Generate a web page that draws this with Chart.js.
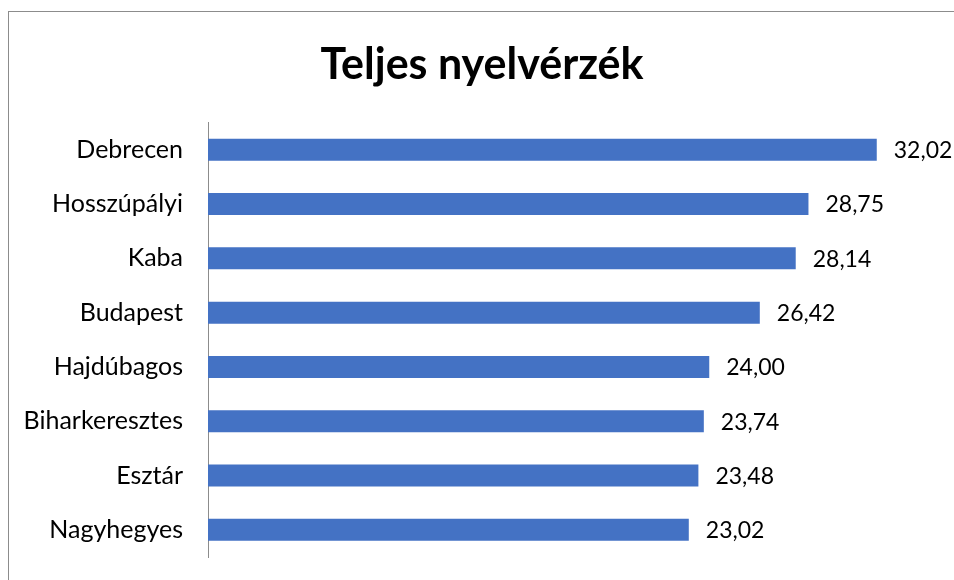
<!DOCTYPE html>
<html>
<head>
<meta charset="utf-8">
<script src="https://cdn.jsdelivr.net/npm/chart.js@4/dist/chart.umd.min.js"></script>
<style>
  html, body { margin: 0; padding: 0; background: #fff; overflow: hidden; }
  #frame {
    position: absolute; left: 8px; top: 11px;
    width: 980px; height: 620px;
    border: 1px solid #8c8c8c;
  }
  #chart { position: absolute; left: 0; top: 0; }
</style>
</head>
<body>
<div id="frame"></div>
<canvas id="chart" width="954" height="580"></canvas>
<script>
// data
const cities = ['Debrecen', 'Hosszúpályi', 'Kaba', 'Budapest', 'Hajdúbagos', 'Biharkeresztes', 'Esztár', 'Nagyhegyes'];
const scores = [32.02, 28.75, 28.14, 26.42, 24.00, 23.74, 23.48, 23.02];
const axisMax = 35;

const FONT = 'Lato, "Open Sans", sans-serif';

// value labels at the end of each bar, Hungarian decimal comma
const barLabels = {
  id: 'barLabels',
  afterDatasetsDraw(chart) {
    const ctx = chart.ctx;
    const meta = chart.getDatasetMeta(0);
    ctx.save();
    ctx.font = '23px ' + FONT;
    ctx.fillStyle = '#000';
    ctx.textAlign = 'left';
    ctx.textBaseline = 'middle';
    meta.data.forEach((bar, i) => {
      ctx.fillText(scores[i].toFixed(2).replace('.', ','), bar.x + 17, bar.y + 1);
    });
    ctx.restore();
  }
};

new Chart(document.getElementById('chart'), {
  type: 'bar',
  data: {
    labels: cities,
    datasets: [{
      data: scores,
      backgroundColor: '#4472C4',
      borderWidth: 0,
      categoryPercentage: 1,
      barPercentage: 0.405,
    }],
  },
  options: {
    indexAxis: 'y',
    responsive: false,
    animation: false,
    layout: { padding: { left: 25, right: 15, top: 0, bottom: 23 } },
    plugins: {
      legend: { display: false },
      tooltip: { enabled: false },
      title: {
        display: true,
        text: 'Teljes nyelvérzék',
        color: '#000',
        font: { family: FONT, size: 43, weight: 'bold', lineHeight: 1.2 },
        padding: { top: 39, bottom: 32 },
      },
    },
    scales: {
      x: {
        min: 0, max: axisMax,
        display: false,
      },
      y: {
        afterFit(scale) { scale.width = 183; },
        // invisible tick marks push the labels 25px away from the axis line
        grid: { display: false, drawTicks: true, tickLength: 25, tickColor: 'rgba(0,0,0,0)' },
        border: { display: true, color: '#8c8c8c', width: 1 },
        ticks: {
          color: '#000',
          padding: 0,
          font: { family: FONT, size: 25 },
        },
      },
    },
  },
  plugins: [barLabels],
});
</script>
</body>
</html>
